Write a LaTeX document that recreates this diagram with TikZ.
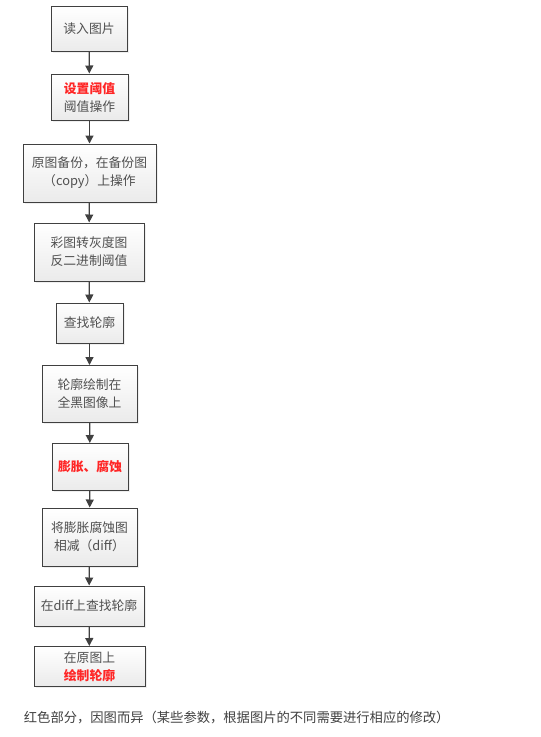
\documentclass[tikz,border=0pt]{standalone}
\usepackage{fontspec}
\newfontfamily\cjk{Noto Sans CJK SC}
\usetikzlibrary{arrows.meta,shadows,positioning}
\definecolor{linegray}{HTML}{404040}
\definecolor{textgray}{HTML}{505050}
\definecolor{hotred}{HTML}{FF2626}
\newcommand{\redtxt}[1]{\textcolor{hotred}{\bfseries #1}}

\begin{document}
\begin{tikzpicture}[x=1pt, y=-1pt, line width=1.2pt, >={Triangle[width=8pt,length=8pt]},
  font=\cjk\fontsize{12.8}{18}\selectfont]
\tikzset{stepbox/.style={draw=linegray, line width=1pt, top color=white, bottom color=black!8,
    drop shadow={shadow xshift=1.5pt, shadow yshift=-1.5pt, fill=black!12},
    text=textgray, align=center, inner sep=2pt}}
\useasboundingbox (0,0) rectangle (541,737);

   \begin{scope}[every node/.style={stepbox}]
\node[minimum width=76pt, minimum height=45pt]  (read)    at (89,29)   {读入图片};
\node[minimum width=77pt, minimum height=46pt]  (thresh)  at (89.5,97) {\redtxt{设置阈值}\\阈值操作};
\node[minimum width=133pt, minimum height=58pt] (backup)  at (89.5,173) {原图备份，在备份图\\（copy）上操作};
\node[minimum width=110pt, minimum height=58pt] (gray)    at (89,252)  {彩图转灰度图\\反二进制阈值};
\node[minimum width=67pt, minimum height=40pt]  (find)    at (89.5,323) {查找轮廓};
\node[minimum width=95pt, minimum height=57pt]  (black)   at (89.5,394) {轮廓绘制在\\全黑图像上};
\node[minimum width=76pt, minimum height=47pt]  (morph)   at (90,467)  {\redtxt{膨胀、腐蚀}};
\node[minimum width=95pt, minimum height=58pt]  (diff)    at (89.5,537) {将膨胀腐蚀图\\相减（diff）};
\node[minimum width=110pt, minimum height=40pt] (finddiff) at (89,606) {在diff上查找轮廓};
\node[minimum width=111pt, minimum height=40pt] (result)  at (89.5,666.5) {在原图上\\\redtxt{绘制轮廓}};
  \end{scope}

\foreach \a/\b in {read/thresh,thresh/backup,backup/gray,gray/find,find/black,
                   black/morph,morph/diff,diff/finddiff,finddiff/result}
       \draw[->, draw=linegray, fill=linegray] (\a) -- (\b);

\node[anchor=west, text=linegray, font=\cjk\fontsize{13.3}{15}\selectfont] (note) at (20,718)
   {红色部分，因图而异（某些参数，根据图片的不同需要进行相应的修改）};
\end{tikzpicture}
\end{document}
